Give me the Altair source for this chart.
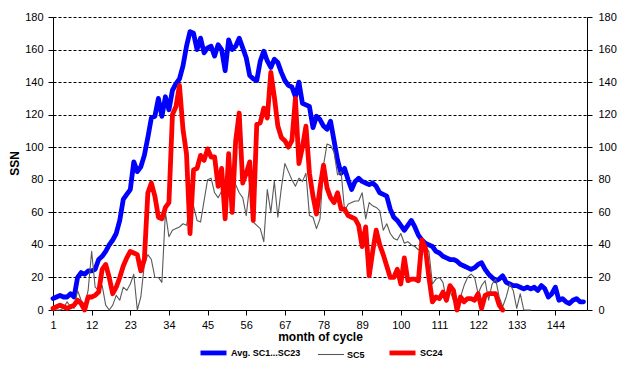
import altair as alt
import pandas as pd

series_names = ["Avg. SC1...SC23", "SC5", "SC24"]
series_colors = ["#0000FF", "#5A5A5A", "#FF0000"]
series_widths = [4.8, 1.1, 4.8]

avg = [7, 8, 9, 8, 8, 10, 8, 20, 23, 22,
       24, 24, 25, 31, 33, 36, 40, 43, 47, 55,
       68, 71, 74, 91, 85, 88, 95, 106, 118, 119,
       130, 119, 131, 123, 135, 139, 142, 150, 162, 171,
       170, 160, 167, 158, 161, 162, 156, 163, 160, 147,
       166, 160, 162, 167, 161, 155, 144, 142, 141, 153,
       159, 153, 149, 154, 152, 146, 141, 138, 137, 131,
       140, 127, 126, 125, 112, 119, 117, 113, 111, 116,
       104, 92, 84, 87, 80, 74, 79, 81, 79, 78,
       77, 78, 76, 72, 71, 70, 62, 57, 55, 52,
       49, 52, 55, 51, 46, 43, 41, 40, 39, 36,
       35, 33, 32, 31, 31, 30, 28, 27, 26, 25,
       26, 28, 29, 25, 22, 20, 18, 19, 21, 17,
       16, 15, 15, 14, 13, 14, 13, 14, 12, 15,
       13, 8, 10, 14, 6, 7, 5, 4, 6, 7,
       5, 5]

sc5 = [0, 0, 0, 1, 5, 2, 1, 12, 6, 3,
       12, 36, 14, 12, 15, 3, 0, 3, 9, 6,
       14, 12, 16, 22, 0, 8, 28, 34, 31, 20,
       20, 17, 60, 45, 49, 50, 51, 53, 52, 63,
       64, 55, 54, 67, 80, 81, 72, 69, 73, 76,
       81, 80, 77, 72, 69, 58, 77, 54, 52, 50,
       42, 74, 60, 79, 57, 75, 90, 85, 80, 76,
       81, 79, 84, 58, 57, 50, 56, 89, 102, 101,
       97, 83, 85, 61, 65, 66, 67, 67, 72, 56,
       66, 64, 63, 61, 49, 53, 47, 44, 43, 47,
       41, 42, 40, 39, 37, 37, 39, 36, 16, 19,
       20, 17, 6, 12, 6, 2, 8, 15, 20, 22,
       20, 10, 15, 18, 6, 16, 19, 8, 2, 8,
       16, 12, 1, 10, 0, 0, 0]

sc24 = [1, 2, 3, 2, 1, 2, 3, 6, 4, 0,
        8, 8, 9, 11, 25, 28, 20, 10, 14, 20,
        27, 32, 36, 35, 34, 24, 31, 72, 78, 70,
        57, 56, 63, 66, 120, 125, 138, 111, 96, 47,
        86, 87, 95, 92, 99, 94, 94, 76, 87, 56,
        96, 60, 104, 121, 78, 84, 91, 55, 114, 115,
        124, 118, 146, 131, 113, 106, 104, 100, 104, 130,
        90, 100, 113, 84, 70, 59, 75, 89, 75, 69,
        66, 72, 62, 62, 58, 57, 56, 52, 39, 51,
        21, 36, 49, 40, 34, 27, 20, 20, 25, 16,
        32, 18, 19, 19, 18, 43, 38, 20, 5, 8,
        7, 11, 6, 15, 12, 0, 8, 5, 7, 7,
        6, 10, 1, 9, 10, 10, 10, 3, 0]

x_ticks = [1, 12, 23, 34, 45, 56, 67, 78, 89, 100, 111, 122, 133, 144]
y_ticks = [0, 20, 40, 60, 80, 100, 120, 140, 160, 180]

rows = []
for name, vals in zip(series_names, [avg, sc5, sc24]):
    for i, v in enumerate(vals):
        rows.append({"month": i + 1, "ssn": v, "series": name})
df = pd.DataFrame(rows)

x_scale = alt.Scale(domain=[1, 153], nice=False, zero=False)
y_scale = alt.Scale(domain=[0, 180], nice=False)

x_axis = alt.Axis(values=x_ticks, title="month of cycle", grid=False,
                  labelFontSize=11, labelColor="black", tickColor="black",
                  domainColor="black", tickSize=5, labelPadding=4,
                  titleFontSize=12, titleFontWeight="bold", titleColor="black",
                  titlePadding=1, labelFlush=False)
x_enc = alt.X("month:Q", scale=x_scale, axis=x_axis)

y_left = alt.Y("ssn:Q", scale=y_scale,
               axis=alt.Axis(values=y_ticks, title="SSN", grid=True,
                             gridColor="black", gridDash=[3, 2], gridWidth=1,
                             labelFontSize=11, labelColor="black",
                             tickColor="black", domainColor="black",
                             tickSize=5, labelPadding=5,
                             titleFontSize=12, titleFontWeight="bold",
                             titleColor="black", titleX=-39, titleY=146,
                             titleAlign="center", titleBaseline="middle"))

legend_props = dict(title=None, orient="none", legendX=145, legendY=320,
                    direction="horizontal", symbolType="stroke", symbolSize=676,
                    labelFontSize=9, labelFontWeight="bold", labelColor="black",
                    labelOffset=2, columnPadding=14)

color_enc = alt.Color("series:N",
                      scale=alt.Scale(domain=series_names, range=series_colors),
                      legend=alt.Legend(**legend_props))
width_enc = alt.StrokeWidth("series:N",
                            scale=alt.Scale(type="ordinal", domain=series_names,
                                            range=series_widths),
                            legend=alt.Legend(**legend_props))

layers = []
for name in series_names:
    layers.append(
        alt.Chart(df)
        .transform_filter(alt.datum.series == name)
        .mark_line(strokeJoin="round", strokeCap="round")
        .encode(x=x_enc, y=y_left, color=color_enc, strokeWidth=width_enc)
    )
lines = alt.layer(*layers)

right_axis = (
    alt.Chart(df)
    .transform_filter(alt.datum.series == series_names[0])
    .mark_line(opacity=0)
    .encode(
        x=x_enc,
        y=alt.Y("ssn:Q", scale=y_scale,
                axis=alt.Axis(values=y_ticks, title=None, orient="right", grid=False,
                              labelFontSize=11, labelColor="black",
                              tickColor="black", domainColor="black",
                              tickSize=5, labelPadding=6)),
    )
)

chart = (
    alt.layer(lines, right_axis)
    .resolve_axis(y="independent")
    .properties(width=534, height=293, autosize="none",
                padding={"left": 45, "top": 9, "right": 45, "bottom": 64})
    .configure(font="Liberation Sans", background="white")
    .configure_view(stroke=None)
)

chart.save("out.html", embed_options={"renderer": "svg", "actions": False})
